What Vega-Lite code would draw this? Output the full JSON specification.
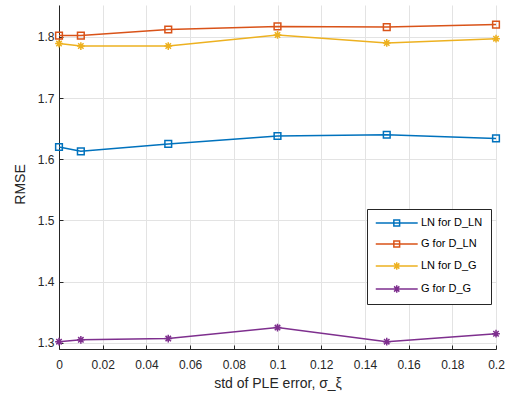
{
  "$schema": "https://vega.github.io/schema/vega-lite/v6.json",
  "width": 437,
  "height": 344,
  "autosize": {"type": "none"},
  "padding": {"left": 59, "top": 5, "right": 11, "bottom": 52},
  "background": "white",
  "config": {
    "view": {"stroke": null},
    "font": "Liberation Sans",
    "axis": {
      "labelFont": "Liberation Sans",
      "titleFont": "Liberation Sans",
      "labelFontSize": 12,
      "titleFontSize": 14,
      "titleFontWeight": "normal",
      "labelColor": "#262626",
      "titleColor": "#262626",
      "domainColor": "#262626",
      "tickColor": "#262626",
      "gridColor": "#e3e3e3",
      "gridWidth": 1,
      "domainWidth": 1,
      "tickSize": -4,
      "labelFlush": false
    }
  },
  "data": {
    "values": [
      {"series": "LN for D_LN", "x": 0, "rmse": 1.620},
      {"series": "LN for D_LN", "x": 0.01, "rmse": 1.613},
      {"series": "LN for D_LN", "x": 0.05, "rmse": 1.625},
      {"series": "LN for D_LN", "x": 0.1, "rmse": 1.638},
      {"series": "LN for D_LN", "x": 0.15, "rmse": 1.640},
      {"series": "LN for D_LN", "x": 0.2, "rmse": 1.634},
      {"series": "G for D_LN", "x": 0, "rmse": 1.802},
      {"series": "G for D_LN", "x": 0.01, "rmse": 1.802},
      {"series": "G for D_LN", "x": 0.05, "rmse": 1.812},
      {"series": "G for D_LN", "x": 0.1, "rmse": 1.817},
      {"series": "G for D_LN", "x": 0.15, "rmse": 1.816},
      {"series": "G for D_LN", "x": 0.2, "rmse": 1.820},
      {"series": "LN for D_G", "x": 0, "rmse": 1.789},
      {"series": "LN for D_G", "x": 0.01, "rmse": 1.785},
      {"series": "LN for D_G", "x": 0.05, "rmse": 1.785},
      {"series": "LN for D_G", "x": 0.1, "rmse": 1.803},
      {"series": "LN for D_G", "x": 0.15, "rmse": 1.790},
      {"series": "LN for D_G", "x": 0.2, "rmse": 1.797},
      {"series": "G for D_G", "x": 0, "rmse": 1.302},
      {"series": "G for D_G", "x": 0.01, "rmse": 1.305},
      {"series": "G for D_G", "x": 0.05, "rmse": 1.307},
      {"series": "G for D_G", "x": 0.1, "rmse": 1.325},
      {"series": "G for D_G", "x": 0.15, "rmse": 1.302},
      {"series": "G for D_G", "x": 0.2, "rmse": 1.315}
    ]
  },
  "encoding": {
    "x": {
      "field": "x",
      "type": "quantitative",
      "scale": {"domain": [0, 0.2], "nice": false, "zero": false},
      "axis": {
        "title": "std of PLE error, σ_ξ",
        "values": [0, 0.02, 0.04, 0.06, 0.08, 0.1, 0.12, 0.14, 0.16, 0.18, 0.2],
        "format": "~g",
        "labelPadding": 14,
        "titleBaseline": "alphabetic",
        "titleY": 38
      }
    },
    "y": {
      "field": "rmse",
      "type": "quantitative",
      "scale": {"domain": [1.29, 1.852], "nice": false, "zero": false},
      "axis": {
        "title": "RMSE",
        "values": [1.3, 1.4, 1.5, 1.6, 1.7, 1.8],
        "format": ".1f",
        "labelPadding": 9,
        "titleX": -32,
        "titleY": 179
      }
    },
    "color": {
      "field": "series",
      "type": "nominal",
      "sort": ["LN for D_LN", "G for D_LN", "LN for D_G", "G for D_G"],
      "scale": {
        "domain": ["LN for D_LN", "G for D_LN", "LN for D_G", "G for D_G"],
        "range": ["#0072BD", "#D95319", "#EDB120", "#7E2F8E"]
      },
      "legend": {
        "title": null,
        "orient": "none",
        "legendX": 308,
        "legendY": 204,
        "strokeColor": "#262626",
        "fillColor": "white",
        "padding": 8,
        "labelFont": "Liberation Sans",
        "labelFontSize": 11,
        "labelColor": "#000000",
        "symbolSize": 110,
        "symbolStrokeWidth": 1.5,
        "labelOffset": 34,
        "rowPadding": 9,
        "encoding": {
          "symbols": {
            "shape": {"value": {"expr": "indexof(datum.value, 'D_LN') >= 0 ? 'M-1,0L7,0M2.45,-0.55L3.55,-0.55L3.55,0.55L2.45,0.55Z' : 'M-1,0L7,0M3,-0.7L3,0.7M2.3,0L3.7,0M2.5,-0.5L3.5,0.5M2.5,0.5L3.5,-0.5'"}},
            "fill": {"value": "transparent"},
            "strokeWidth": {"value": 1.5}
          }
        }
      }
    }
  },
  "layer": [
    {
      "mark": {"type": "line", "strokeWidth": 1.5}
    },
    {
      "transform": [{"filter": "indexof(datum.series, 'D_LN') >= 0"}],
      "mark": {"type": "point", "shape": "square", "filled": false, "strokeWidth": 1.5, "opacity": 1, "size": 45}
    },
    {
      "transform": [{"filter": "indexof(datum.series, 'D_LN') < 0"}],
      "mark": {"type": "point", "shape": "M0,-1L0,1M-1,0L1,0M-0.7,-0.7L0.7,0.7M-0.7,0.7L0.7,-0.7", "filled": false, "strokeWidth": 1.5, "opacity": 1, "size": 60}
    }
  ]
}
